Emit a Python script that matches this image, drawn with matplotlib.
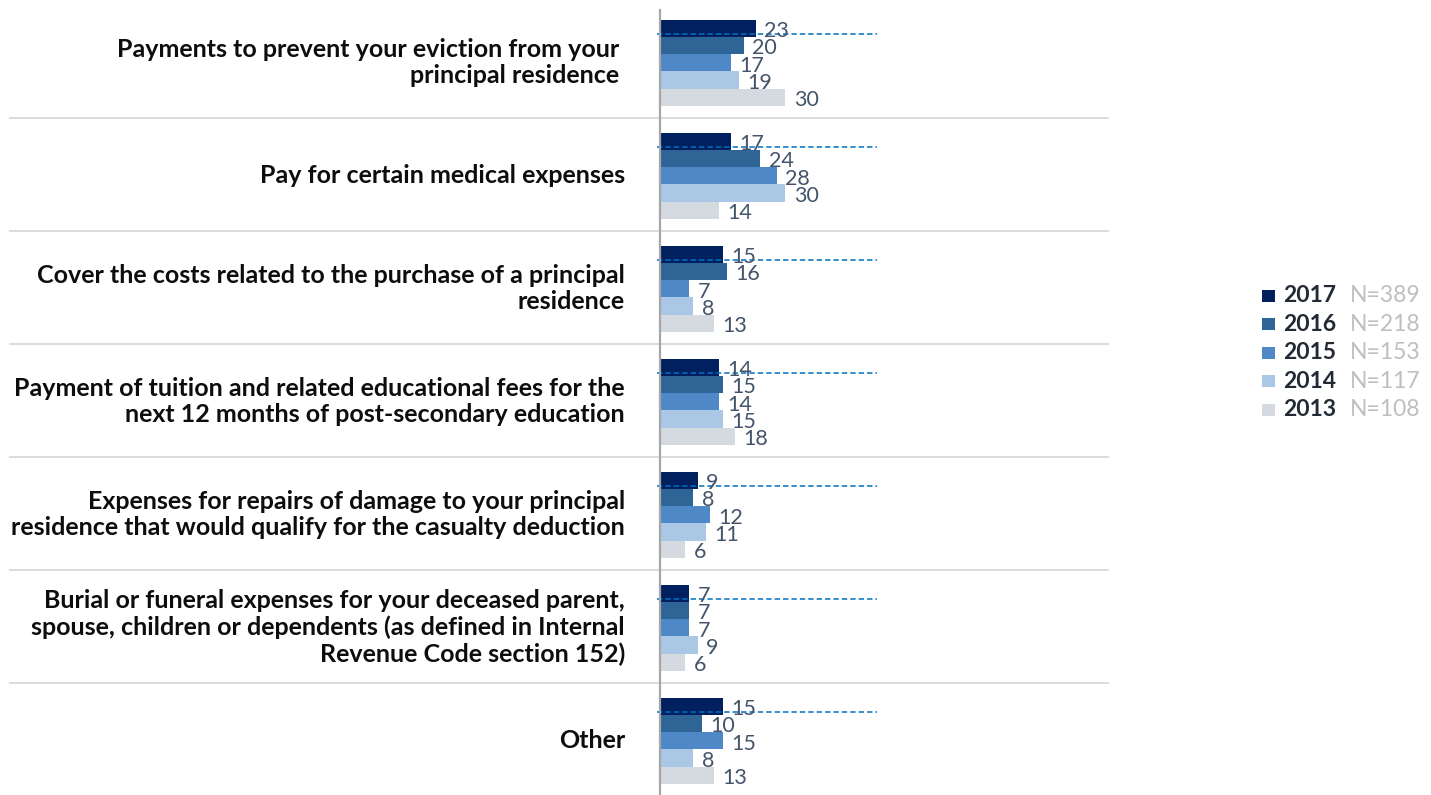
import matplotlib
matplotlib.use("Agg")
import matplotlib.pyplot as plt
from matplotlib.patches import Rectangle
import numpy as np

categories = [
    "Payments to prevent your eviction from your \nprincipal residence ",
    "Pay for certain medical expenses",
    "Cover the costs related to the purchase of a principal\nresidence",
    "Payment of tuition and related educational fees for the\nnext 12 months of post-secondary education",
    "Expenses for repairs of damage to your principal\nresidence that would qualify for the casualty deduction",
    "Burial or funeral expenses for your deceased parent,\nspouse, children or dependents (as defined in Internal\nRevenue Code section 152)",
    "Other",
]
years = ["2017", "2016", "2015", "2014", "2013"]
sample_sizes = ["N=389", "N=218", "N=153", "N=117", "N=108"]
v2017 = [23, 17, 15, 14, 9, 7, 15]
v2016 = [20, 24, 16, 15, 8, 7, 10]
v2015 = [17, 28, 7, 14, 12, 7, 15]
v2014 = [19, 30, 8, 15, 11, 9, 8]
v2013 = [30, 14, 13, 18, 6, 6, 13]
series = [v2017, v2016, v2015, v2014, v2013]
colors = ["#002060", "#2f6497", "#4f88c6", "#aac8e6", "#d5dae1"]

W, H = 1431, 795
fig = plt.figure(figsize=(W / 100, H / 100), dpi=100)

# layout in pixels
ax_left, ax_right = 660, 1108
ax_top = 4.5
band = 113.0
n = len(categories)
ax_h = band * n
ax = fig.add_axes([ax_left / W, 1 - (ax_top + ax_h) / H, (ax_right - ax_left) / W, ax_h / H])
px_per_unit = 4.18
ax.set_xlim(0, (ax_right - ax_left) / px_per_unit)
ax.set_ylim(n, 0)
ax.axis("off")

bar_off = 15.0 / band
bar_h = 17.3 / band
for s, (vals, c) in enumerate(zip(series, colors)):
    ys = np.arange(n) + bar_off + (s + 0.5) * bar_h
    ax.barh(ys, vals, height=bar_h, color=c, edgecolor="none", zorder=2)
    for y, v in zip(ys, vals):
        ax.annotate(str(v), (v, y), xytext=(6, -2), textcoords="offset points",
                    ha="left", va="center", fontsize=15.5, family="Lato",
                    color="#44546a", zorder=4)

# dashed lines
for i in range(n):
    y = i + bar_off + 14.0 / band
    ax.plot([-0.7, 51.9], [y, y], color="#0070c0", lw=1.1, ls=(0, (3.5, 2)),
            zorder=3, clip_on=False)

# separators
trans = matplotlib.transforms.blended_transform_factory(fig.transFigure, ax.transData)
for i in range(1, n):
    ax.plot([10 / W, 1108 / W], [i, i], color="#d9d9d9", lw=1.3, transform=trans,
            clip_on=False, zorder=1)

# vertical axis line
ax.plot([0, 0], [5.5 / band, n], color="#a6a6a6", lw=1.6, clip_on=False, zorder=5)

# category labels
for i, lab in enumerate(categories):
    ax.text(-35 / px_per_unit, i + 0.5 + 1.5 / band, lab, ha="right", va="center",
            fontsize=18, family="Lato", weight="bold", color="#0d0d0d",
            linespacing=1.2, multialignment="right")

# legend
row_y = [296, 324.3, 352.6, 381, 409.5]
for c, yr, ns, yy in zip(colors, years, sample_sizes, row_y):
    fig.patches.append(Rectangle((1262 / W, 1 - (yy + 6) / H), 13 / W, 12 / H,
                                 transform=fig.transFigure, facecolor=c, edgecolor="none"))
    fig.text(1283 / W, 1 - yy / H, yr, ha="left", va="center", fontsize=16.5,
             family="Lato", weight="bold", color="#222a35")
    fig.text(1350 / W, 1 - yy / H, ns, ha="left", va="center", fontsize=16.5,
             family="Lato", color="#bfbfbf")

fig.savefig("out.png", dpi=100, facecolor="white")
